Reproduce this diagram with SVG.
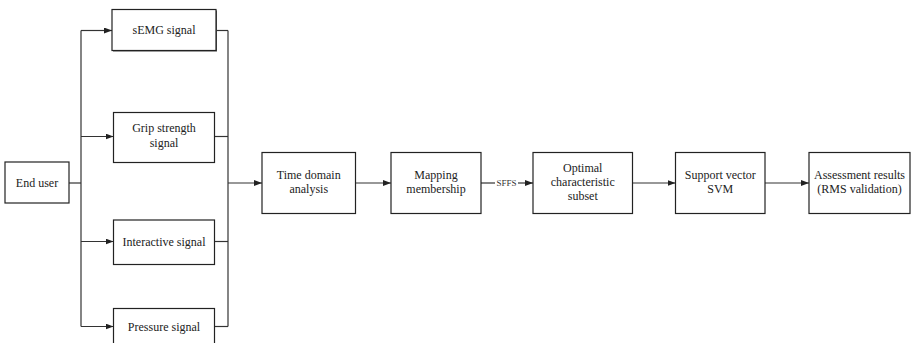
<svg xmlns="http://www.w3.org/2000/svg" width="911" height="343" viewBox="0 0 911 343">
<style>
.box{fill:#fff;stroke:#222;stroke-width:1.2}
.t{font-family:'Liberation Serif',Tinos,'DejaVu Serif',serif;font-size:12px;fill:#222;text-anchor:middle}
.s{font-family:'Liberation Serif',Tinos,'DejaVu Serif',serif;font-size:9px;fill:#333;text-anchor:middle}
.c{fill:none;stroke:#333;stroke-width:1.2}
.a{fill:none;stroke:#333;stroke-width:1.2;marker-end:url(#ah)}
</style>
<defs>
<marker id="ah" markerUnits="userSpaceOnUse" markerWidth="8" markerHeight="6" refX="8" refY="3" orient="auto">
<path d="M0,0 L8,3 L0,6 Z" fill="#222"/>
</marker>
</defs>
<rect width="911" height="343" fill="#fff"/>
<g id="connectors">
<path class="c" d="M69,183 H81" stroke-width="1.8"/>
<path class="c" d="M81,30.5 V326.5"/>
<path class="a" d="M81,30.5 H112"/>
<path class="a" d="M81,136.5 H113.5"/>
<path class="a" d="M81,241.5 H113.5"/>
<path class="a" d="M81,326.5 H113.5"/>
<path class="c" d="M216,30.5 H228"/>
<path class="c" d="M214.5,136.5 H228"/>
<path class="c" d="M214.5,241.5 H228"/>
<path class="c" d="M214.5,326.5 H228"/>
<path class="c" d="M228,30.5 V326.5" stroke="#555"/>
<path class="a" d="M228,183 H262" stroke-width="1.8"/>
<path class="a" d="M355.5,183 H391"/>
<path class="c" d="M481,183 H495"/>
<path class="a" d="M518,183 H533"/>
<text class="s" x="506.5" y="186">SFFS</text>
<path class="a" d="M632.5,183 H675.5"/>
<path class="a" d="M765,183 H809"/>
</g>
<g id="enduser">
<rect class="box" x="5" y="162" width="64" height="41"/>
<text class="t" x="37" y="187">End user</text>
</g>
<g id="semg">
<rect x="113" y="10.5" width="104" height="41" fill="#555"/>
<rect class="box" x="112" y="9.5" width="104" height="41"/>
<text class="t" x="164" y="34">sEMG signal</text>
</g>
<g id="grip">
<rect class="box" x="113.5" y="112.5" width="101" height="50"/>
<text class="t" x="164" y="132">Grip strength</text>
<text class="t" x="164" y="147">signal</text>
</g>
<g id="interactive">
<rect class="box" x="113.5" y="220" width="101" height="44.5"/>
<text class="t" x="164" y="245.5">Interactive signal</text>
</g>
<g id="pressure">
<rect class="box" x="113.5" y="308.5" width="101" height="40"/>
<text class="t" x="164" y="330.5">Pressure signal</text>
</g>
<g id="time">
<rect class="box" x="262" y="152.5" width="93.5" height="61"/>
<text class="t" x="308.75" y="179">Time domain</text>
<text class="t" x="308.75" y="193">analysis</text>
</g>
<g id="mapping">
<rect class="box" x="391" y="152.5" width="90" height="61"/>
<text class="t" x="436" y="179">Mapping</text>
<text class="t" x="436" y="193">membership</text>
</g>
<g id="optimal">
<rect class="box" x="533" y="152.5" width="99.5" height="61"/>
<text class="t" x="582.75" y="172">Optimal</text>
<text class="t" x="582.75" y="186">characteristic</text>
<text class="t" x="582.75" y="200">subset</text>
</g>
<g id="svm">
<rect class="box" x="675.5" y="152.5" width="89.5" height="61"/>
<text class="t" x="720.25" y="179">Support vector</text>
<text class="t" x="720.25" y="193">SVM</text>
</g>
<g id="assessment">
<rect class="box" x="809" y="152.5" width="101" height="61"/>
<text class="t" x="859.5" y="178.5">Assessment results</text>
<text class="t" x="859.5" y="192.5">(RMS validation)</text>
</g>
</svg>
